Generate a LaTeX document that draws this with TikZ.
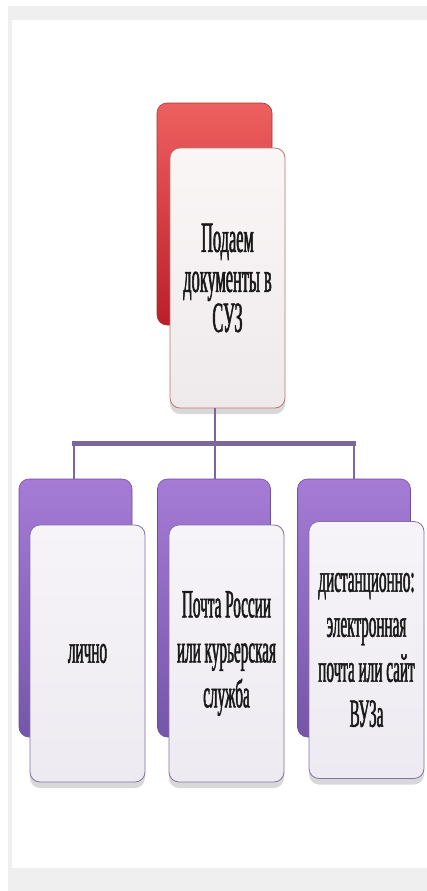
\documentclass[tikz,border=0pt]{standalone}
\usepackage{fontspec}
\setmainfont{Liberation Serif}[FakeStretch=0.38,FakeBold=1.2]
\usetikzlibrary{shadows,positioning}
\definecolor{redtop}{HTML}{EE6060}
\definecolor{redbot}{HTML}{BB1E28}
\definecolor{redline}{HTML}{A83434}
\definecolor{fronttop}{HTML}{FBF6F6}
\definecolor{frontbot}{HTML}{EEEAEC}
\definecolor{frontline}{HTML}{C27474}
\definecolor{purtop}{HTML}{A57BD6}
\definecolor{purbot}{HTML}{7556A8}
\definecolor{purline}{HTML}{6C4F99}
\definecolor{pfronttop}{HTML}{F6F4F8}
\definecolor{pfrontbot}{HTML}{EDEBF1}
\definecolor{pfrontline}{HTML}{8572A4}
\definecolor{conn}{HTML}{8064A2}
\definecolor{bar}{HTML}{7B6898}
\definecolor{frame}{HTML}{EFEFEF}
\definecolor{txt}{HTML}{1A1A1A}
\tikzset{
  backred/.style={draw=redline, line width=0.6pt, rounded corners=10pt, top color=redtop, bottom color=redbot, minimum width=115pt, minimum height=222pt, inner sep=0pt},
  frontred/.style={draw=frontline, line width=0.8pt, rounded corners=10pt, top color=fronttop, bottom color=frontbot, minimum width=115pt, minimum height=260pt, align=center, inner sep=0pt, text=txt, font=\fontsize{43}{40}\selectfont,
    drop shadow={shadow xshift=0pt, shadow yshift=-6pt, opacity=0.25, fill=black!60}},
  backpur/.style={draw=purline, line width=0.6pt, rounded corners=10pt, top color=purtop, bottom color=purbot, minimum width=113pt, minimum height=258pt, inner sep=0pt},
  frontpur/.style={draw=pfrontline, line width=0.8pt, rounded corners=10pt, top color=pfronttop, bottom color=pfrontbot, minimum width=115pt, minimum height=257pt, align=center, inner sep=0pt, text=txt, font=\fontsize{40}{45}\selectfont,
    drop shadow={shadow xshift=0pt, shadow yshift=-6pt, opacity=0.25, fill=black!60}},
  connector/.style={draw=conn, line width=1.4pt},
  barline/.style={draw=bar, line width=5pt},
}
\begin{document}
\begin{tikzpicture}[x=1pt,y=-1pt]
\useasboundingbox (0,0) rectangle (427,891);
\fill[white] (0,0) rectangle (427,891);
% frame
\fill[frame] (8,6) rectangle (427,20);
\fill[frame] (8,6) rectangle (12,891);
\fill[frame] (8,868) rectangle (427,891);

% top
\node[backred] (topback) at (214.5,214) {};
\node[frontred] (top) at (227.5,278) {Подаем\\документы в\\СУЗ};

% children back
\node[backpur] (b1back) at (75.5,608) {};
\node[backpur] (b2back) at (214,608) {};
\node[backpur] (b3back) at (354,608) {};

% connectors
\coordinate (barmid) at (215,443.5);
\coordinate (barl) at (74,443.5);
\coordinate (barr) at (354,443.5);
\draw[barline] (72,443.5) -- (356,443.5);
\draw[connector] (215,408) -- (barmid);
\draw[connector] (barmid) -- (b2back.north -| barmid);
\draw[connector] (barl) -- (b1back.north -| barl);
\draw[connector] (barr) -- (b3back.north -| barr);

% children front
\node[frontpur] (b1) at (87.5,653.5) {лично};
\node[frontpur] (b2) at (226.5,653.5) {Почта России\\или курьерская\\служба};
\node[frontpur] (b3) at (366.5,650) {дистанционно:\\электронная\\почта или сайт\\ВУЗа};
\end{tikzpicture}
\end{document}
